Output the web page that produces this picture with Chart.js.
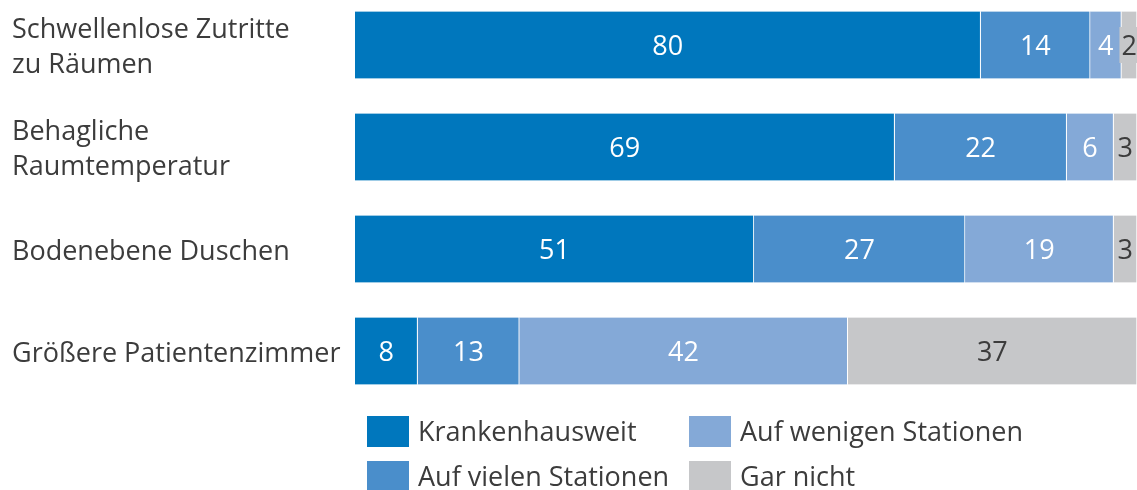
<!DOCTYPE html>
<html lang="de">
<head>
    <meta charset="UTF-8">
    <title>Barrierefreiheit im Krankenhaus</title>
    <style>
        * {
            box-sizing: border-box;
            margin: 0;
            padding: 0;
        }
        body {
            width: 1137px;
            height: 490px;
            overflow: hidden;
            background: #fff;
            position: relative;
        }
        #chartBox {
            position: absolute;
            left: 0;
            top: -6px;
            width: 1137px;
            height: 496px;
        }
    </style>
    <script src="https://cdn.jsdelivr.net/npm/chart.js"></script>
</head>
<body>
    <div id="chartBox">
        <canvas id="barChart"></canvas>
    </div>

    <script>
        // Angaben in Prozent
        const categories = [
            ['Schwellenlose Zutritte', 'zu Räumen'],
            ['Behagliche', 'Raumtemperatur'],
            'Bodenebene Duschen',
            'Größere Patientenzimmer'
        ];
        const seriesNames = ['Krankenhausweit', 'Auf vielen Stationen', 'Auf wenigen Stationen', 'Gar nicht'];
        const krankenhausweit = [80, 69, 51, 8];
        const vieleStationen = [14, 22, 27, 13];
        const wenigeStationen = [4, 6, 19, 42];
        const garNicht = [2, 3, 3, 37];

        const colors = ['#0077bd', '#4a8ecb', '#84a9d7', '#c6c7c9'];
        const labelColors = ['#ffffff', '#ffffff', '#ffffff', '#3c3c3c'];
        const textColor = '#3c3c3c';
        const fontFamily = "'Open Sans', sans-serif";

        // Zahlen mittig in die Balkensegmente schreiben
        const valueLabels = {
            id: 'valueLabels',
            afterDatasetsDraw(chart) {
                const ctx = chart.ctx;
                ctx.save();
                ctx.font = '27px ' + fontFamily;
                ctx.textAlign = 'center';
                ctx.textBaseline = 'middle';
                chart.data.datasets.forEach((ds, i) => {
                    chart.getDatasetMeta(i).data.forEach((bar, j) => {
                        const text = String(ds.data[j]);
                        const cx = (bar.x + bar.base) / 2;
                        const w = ctx.measureText(text).width + 4;
                        // schmale Segmente bekommen einen Hintergrund hinter der Zahl
                        if (w > Math.abs(bar.x - bar.base)) {
                            ctx.fillStyle = colors[i];
                            ctx.fillRect(cx - w / 2, bar.y - 18, w, 36);
                        }
                        ctx.fillStyle = labelColors[i];
                        ctx.fillText(text, cx, bar.y + 2);
                    });
                });
                ctx.restore();
            }
        };

        // Legende in zwei Spalten unter den Balken
        const legendGrid = {
            id: 'legendGrid',
            afterDraw(chart) {
                const ctx = chart.ctx;
                const cols = [367, 689];
                const rows = [422, 467];
                // Spalte 1: Krankenhausweit, Auf vielen Stationen; Spalte 2: die beiden anderen
                const order = [0, 2, 1, 3];
                ctx.save();
                ctx.font = '27px ' + fontFamily;
                ctx.textBaseline = 'middle';
                order.forEach((idx, i) => {
                    const x = cols[i % 2];
                    const y = rows[Math.floor(i / 2)];
                    ctx.fillStyle = colors[idx];
                    ctx.fillRect(x, y, 42, 31);
                    ctx.fillStyle = textColor;
                    ctx.fillText(seriesNames[idx], x + 51, y + 17);
                });
                ctx.restore();
            }
        };

        const ctx = document.getElementById('barChart').getContext('2d');
        new Chart(ctx, {
            type: 'bar',
            data: {
                labels: categories,
                datasets: [krankenhausweit, vieleStationen, wenigeStationen, garNicht].map((values, i) => ({
                    label: seriesNames[i],
                    data: values,
                    backgroundColor: colors[i],
                    borderColor: '#ffffff',
                    borderWidth: { top: 0, bottom: 0, left: 0, right: 1 },
                    borderSkipped: false,
                    barThickness: 67
                }))
            },
            options: {
                indexAxis: 'y',
                responsive: true,
                maintainAspectRatio: false,
                animation: false,
                layout: {
                    padding: { left: 12, right: 0, top: 0, bottom: 88 }
                },
                plugins: {
                    legend: { display: false },
                    tooltip: { enabled: false }
                },
                scales: {
                    x: {
                        stacked: true,
                        min: 0,
                        max: 100,
                        display: false
                    },
                    y: {
                        stacked: true,
                        grid: { display: false },
                        border: { display: false },
                        ticks: {
                            crossAlign: 'far',
                            labelOffset: 3,
                            color: textColor,
                            font: { family: fontFamily, size: 27, lineHeight: 1.3 }
                        },
                        afterFit(scale) {
                            scale.width = 343;
                            scale.paddingTop = 0;
                            scale.paddingBottom = 0;
                        }
                    }
                }
            },
            plugins: [valueLabels, legendGrid]
        });
    </script>
</body>
</html>
